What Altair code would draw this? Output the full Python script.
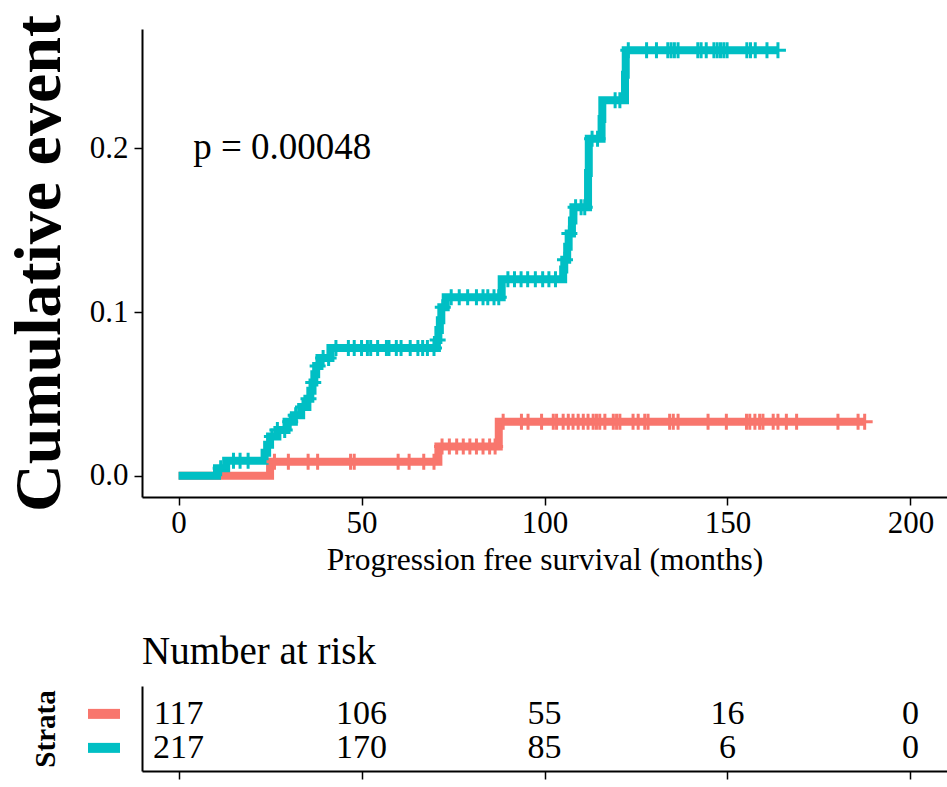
import altair as alt
import pandas as pd

# ---------------- data ----------------
groups = ["Strata 1", "Strata 2"]
colors = ["#F8766D", "#00BFC4"]

# group 1 (red) step curve: event times and cumulative event values
red_times = [0, 25.0, 71.0, 87.5]
red_cum = [0, 0.0085, 0.0178, 0.0330]
red_end = 187.5
red_censor = [26.2, 30.0, 35.4, 38.0, 47.0, 48.0, 60.0, 63.0, 67.0, 69.8,
              72.0, 74.0, 76.0, 77.8, 79.6, 81.4, 83.2, 85.0, 86.5,
              88.7, 93.7, 95.5, 99.2, 102.4, 103.3, 105.1, 106.5, 107.8, 109.2,
              110.6, 111.9, 113.3, 114.2, 115.1, 116.5, 118.8, 119.7, 120.6,
              124.2, 125.6, 127.4, 128.3, 134.2, 135.2, 136.5, 144.7, 149.7,
              155.2, 156.1, 157.5, 158.8, 159.7, 162.5, 163.8, 166.1, 168.9,
              180.2, 185.7]

# group 2 (teal) step curve
teal_times = [0, 10.5, 13.0, 23.5, 24.2, 25.0, 27.0, 29.5, 31.5, 33.5, 35.2,
              36.0, 36.6, 37.1, 37.6, 38.5, 41.5, 70.6, 71.0, 71.4, 71.8, 73.0,
              88.3, 105.1, 105.4, 106.2, 106.6, 107.5, 107.9, 111.9, 112.1,
              115.6, 115.8, 122.0, 122.2]
teal_cum = [0, 0.0046, 0.0092, 0.014, 0.019, 0.024, 0.028, 0.033, 0.037, 0.042,
            0.047, 0.052, 0.057, 0.062, 0.067, 0.072, 0.078, 0.083, 0.089, 0.095,
            0.103, 0.109, 0.120, 0.126, 0.132, 0.140, 0.148, 0.156, 0.164, 0.185,
            0.206, 0.218, 0.2295, 0.245, 0.260]
teal_end = 163.8
teal_censor = [11.5, 15.0, 16.8, 19.0,
               25.5, 27.0, 29.0, 30.5, 32.0, 34.0, 35.5, 36.8, 38.0, 39.5, 41.0,
               43.0, 46.4, 48.0, 50.0, 51.6, 52.5, 54.4, 56.8, 57.5, 59.5, 60.8,
               63.3, 65.4, 66.7, 68.0, 69.8, 70.8, 72.2,
               74.5, 76.7, 79.0, 81.4, 83.2, 84.5, 86.2, 87.5,
               90.0, 91.8, 93.6, 95.4, 97.5, 99.5, 101.2, 103.0,
               105.6, 106.8, 108.5, 110.0, 111.0, 113.0, 114.5, 119.3, 120.6,
               122.9, 127.9, 130.6, 133.7, 134.6, 135.5, 136.5, 141.9, 142.8,
               144.2, 146.3, 147.2, 148.1, 149.0, 149.9, 155.3, 156.3, 157.6,
               160.8]

pval_label = "p = 0.00048"
pval_x = 4
pval_y = 0.2

risk_times = [0, 50, 100, 150, 200]
risk_red = [117, 106, 55, 16, 0]
risk_teal = [217, 170, 85, 6, 0]

x_ticks = [0, 50, 100, 150, 200]
y_ticks = [0.0, 0.1, 0.2]


def level_at(times, cum, t):
    v = cum[0]
    for tt, cc in zip(times, cum):
        if tt <= t:
            v = cc
    return v


curve_rows = []
censor_rows = []
for g, times, cum, end, cens in [
    (groups[0], red_times, red_cum, red_end, red_censor),
    (groups[1], teal_times, teal_cum, teal_end, teal_censor),
]:
    for t, c in zip(times, cum):
        curve_rows.append({"group": g, "time": t, "cum": c})
    curve_rows.append({"group": g, "time": end, "cum": cum[-1]})
    for t in cens + [end]:
        censor_rows.append({"group": g, "time": t, "cum": level_at(times, cum, t)})

curve_df = pd.DataFrame(curve_rows)
censor_df = pd.DataFrame(censor_rows)
pval_df = pd.DataFrame([{"x": pval_x, "y": pval_y, "label": pval_label}])

risk_rows = []
for g, row, counts in [(groups[0], 2, risk_red), (groups[1], 1, risk_teal)]:
    for t, n in zip(risk_times, counts):
        risk_rows.append({"time": t, "row": row, "group": g, "n": n})
risk_df = pd.DataFrame(risk_rows)
key_df = pd.DataFrame([{"row": 2, "group": groups[0]}, {"row": 1, "group": groups[1]}])

# ---------------- chart ----------------
FONT = "Liberation Serif"
W = 805

x_scale = alt.Scale(domain=[-10, 210], nice=False, zero=False)
y_scale = alt.Scale(domain=[-0.013, 0.273], nice=False, zero=False)
row_scale = alt.Scale(domain=[0.32, 2.82], nice=False, zero=False)
color_scale = alt.Scale(domain=groups, range=colors)

x_axis = alt.Axis(values=x_ticks, title="Progression free survival (months)",
                  labelFontSize=31, titleFontSize=31.5, labelFont=FONT, titleFont=FONT,
                  titleFontWeight="normal", labelColor="black", titleColor="black",
                  domainColor="black", domainWidth=2, tickColor="black", tickWidth=1.5,
                  tickSize=8, labelPadding=3, titlePadding=6, grid=False)
y_axis = alt.Axis(values=y_ticks, format=".1f", title="Cumulative event",
                  labelFontSize=31, titleFontSize=66, labelFont=FONT, titleFont=FONT,
                  titleFontWeight="bold", labelColor="black", titleColor="black",
                  domainColor="black", domainWidth=2, tickColor="black", tickWidth=1.5,
                  tickSize=8, labelPadding=6, titlePadding=16, grid=False)

lines = alt.Chart(curve_df).mark_line(interpolate="step-after", strokeWidth=8).encode(
    x=alt.X("time:Q", scale=x_scale, axis=x_axis),
    y=alt.Y("cum:Q", scale=y_scale, axis=y_axis),
    color=alt.Color("group:N", scale=color_scale, legend=None),
)

censors = alt.Chart(censor_df).mark_point(
    shape="M-1,0L1,0M0,-1L0,1", filled=False, size=256, strokeWidth=3, opacity=1
).encode(
    x=alt.X("time:Q", scale=x_scale),
    y=alt.Y("cum:Q", scale=y_scale),
    color=alt.Color("group:N", scale=color_scale, legend=None),
)

pval = alt.Chart(pval_df).mark_text(
    align="left", baseline="middle", fontSize=37, font=FONT, color="black"
).encode(
    x=alt.X("x:Q", scale=x_scale),
    y=alt.Y("y:Q", scale=y_scale),
    text="label:N",
)

main = alt.layer(lines, censors, pval).properties(width=W, height=468)

table_text = alt.Chart(risk_df).mark_text(fontSize=34, font=FONT, color="black").encode(
    x=alt.X("time:Q", scale=x_scale,
            axis=alt.Axis(values=x_ticks, labels=False, title=None, domainColor="black",
                          domainWidth=2, tickColor="black", tickWidth=1.5, tickSize=8,
                          grid=False)),
    y=alt.Y("row:Q", scale=row_scale,
            axis=alt.Axis(values=[1, 2], labels=False, ticks=False,
                          title="Strata", titleFont=FONT, titleFontSize=29,
                          titleFontWeight="bold", titleColor="black", titlePadding=82,
                          domainColor="black", domainWidth=2, grid=False)),
    text="n:Q",
)

# colour keys of the strata, drawn left of the table's axis
table_keys = alt.Chart(key_df).mark_rule(strokeWidth=10).encode(
    x=alt.value(-54),
    x2=alt.value(-22),
    y=alt.Y("row:Q", scale=row_scale),
    color=alt.Color("group:N", scale=color_scale, legend=None),
)

table = alt.layer(table_text, table_keys).properties(
    width=W, height=85,
    title=alt.TitleParams("Number at risk", anchor="start", frame="group", fontSize=39,
                          font=FONT, fontWeight="normal", color="black", offset=14),
)

chart = alt.vconcat(main, table, spacing=57).properties(
    padding={"left": 6, "top": 14, "right": 0, "bottom": 5},
    background="white",
).configure_view(stroke=None)

chart.save("out.html", embed_options={"renderer": "svg", "actions": False})
